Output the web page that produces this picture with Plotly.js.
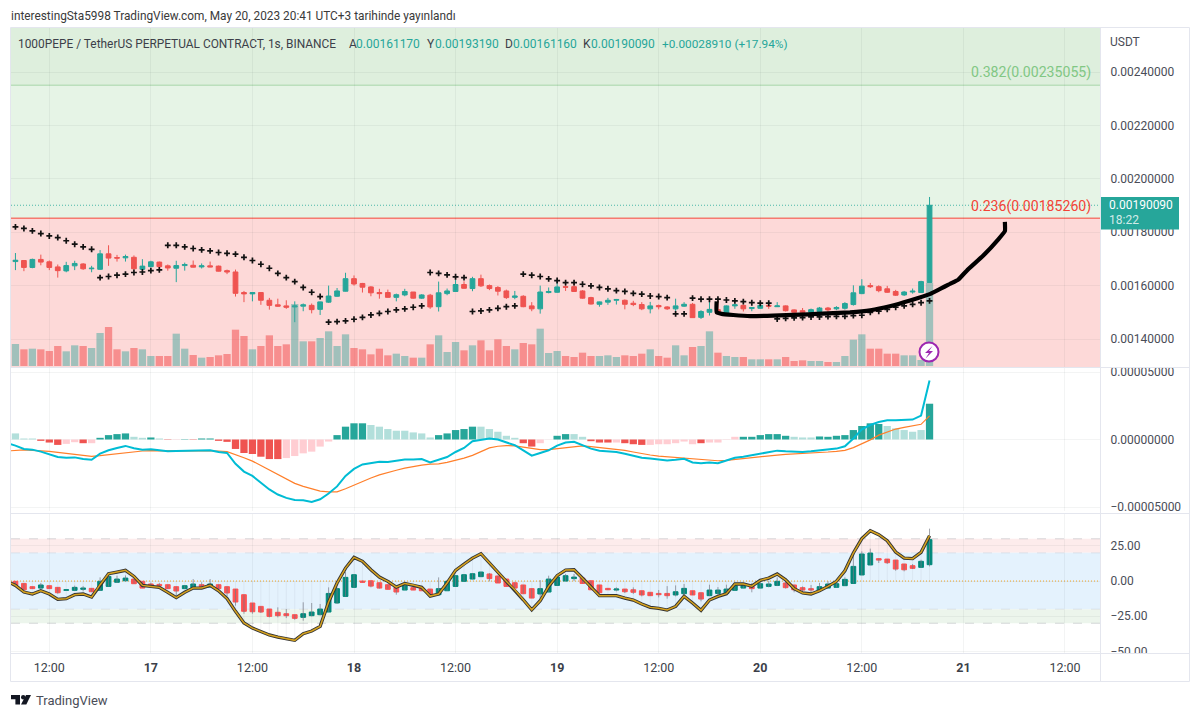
<!DOCTYPE html>
<html><head><meta charset="utf-8">
<script src="https://cdn.plot.ly/plotly-3.0.1.min.js"></script>
<style>html,body{margin:0;padding:0;background:#fff}#c{width:1200px;height:718px}</style></head>
<body><div id="c"></div>
<script>
// ---- price candles, in units of 0.00001 USDT
const priceOpen=[169,169.4,166.8,169.8,168.9,167,165.5,167.4,168.1,166.3,
166.1,171.9,170.5,170.4,170.6,166.1,167.1,168.8,167.4,166.5,
167.5,167.6,167,167.4,167.3,165.6,165.1,157.4,156.9,157.4,
154.5,152.8,152.4,152,152.3,152.6,151.1,153.8,156,157.9,
162.6,160.8,159.5,157.4,157.4,155.6,156.5,157.6,155.3,156.4,
152.1,157,157.8,160.4,158.9,162.6,160,159.3,158,155.6,
156,152.4,151.3,157.4,157.5,159.6,159.6,158,155.5,153,
153.8,154.5,154.5,153.4,152.9,151.3,152.5,152,151.3,152.3,
153,148.1,150,151,149.8,152.4,152.6,151.4,151.5,152.6,
152.1,152.4,150.9,150.6,150,150.3,151.6,151.3,151.5,152.9,
157,160,159.6,158.8,157.8,156.5,157.6,157.4,161.17];
const priceHigh=[172.2,169.4,170.1,171.6,169.4,167.9,168.9,169.3,168.4,167.4,
173.3,175.1,171.5,171.6,171.3,169.9,169.3,169,167.9,169.3,
168.6,169.4,168.3,169,167.5,166,166,158,157.6,157.6,
155.4,155.1,154.5,154.1,153.3,153.3,154,160,159.1,164.8,
163.8,161,159.8,158.8,158.5,157,158.8,157.6,156.8,156.9,
161.5,158.9,162.3,161.6,163.3,164.1,160.4,159.8,158.5,158,
156.4,153.8,160,159.3,162.5,160.4,161,158.3,155.8,154,
155.4,155,154.8,154.3,153.8,153.9,152.9,152.3,155.1,153.8,
153.5,150.8,154,154.8,152.6,153.3,152.9,152,153.3,153,
153.8,152.6,151.1,151.6,151.4,152,152,152.3,153.8,160.1,
162.4,161,160.1,159.9,158.4,158,158.9,161.8,193.19];
const priceLow=[165.8,165.4,166.5,167.6,165.8,163,165,165.8,165.9,165,
165.9,167.4,169,169,166,165.9,166.9,166.5,165.6,161.3,
165.6,166.8,166.4,166.9,165.3,164.3,155.9,153.8,154.1,152.8,
151,152.1,151.3,146.3,150.4,149.6,149,153.5,155.8,157.8,
160,157.4,156,155.1,155.5,154.1,156,155.1,155,151.3,
150.3,156.4,157.6,158.9,157.9,159.5,158.3,156.3,155,154.9,
151.9,150.4,149.5,157.1,157.3,158,157.6,155.1,152.9,152.1,
152.8,152.9,151.1,152.3,150.8,149.6,151.1,150.9,150.5,152,
147.9,147.5,148.8,149.5,149.5,151.3,150.3,150.4,151.3,151.3,
152,150.3,149.8,149.5,149.8,149.8,150,150.8,151,152.5,
156.8,159.1,157.5,157.3,156.1,156.1,157,157.3,161.16];
const priceClose=[169.5,166.8,169.8,168.8,166.8,165.6,167.5,168.3,166.3,166.5,
171.9,170.3,170.3,170.9,166.3,167.3,168.9,167.1,166.6,167.5,
167.9,166.9,167.4,167,165.4,165.1,157.1,156.9,157.4,154.5,
152.6,152.3,151.9,152.4,152.8,151,153.9,156.1,158,162.6,
160.6,159.4,157.3,157,155.6,156.6,157.8,155.3,156.5,152,
157.3,158,160.4,159,162.6,159.9,158.9,157.9,155.5,156.1,
152.1,151.3,157.6,157.8,159.5,159.4,157.8,155.3,153.1,153.9,
154.5,154.8,153,152.9,151.3,152.4,152.1,151.3,152.4,153,
148,150.3,151.1,149.6,152.4,152.8,151.3,151.8,152.6,152.3,
152.4,150.6,150,150,151,151.6,150.9,151.8,153.3,157.3,
159.8,159.6,158.1,157.5,156.4,157.6,157.9,161.5,190.09];
const volume=[66,50,52,50,45,60,44,62,60,54,
99,117,50,44,54,50,30,30,30,97,
52,33,25,27,32,36,109,90,50,60,
92,60,65,186,74,74,84,104,60,95,
54,50,35,52,32,37,30,25,25,65,
92,42,72,47,62,77,47,80,60,50,
69,65,112,39,45,30,27,40,30,30,
32,27,32,30,37,50,30,25,62,32,
57,60,104,40,30,27,27,20,20,20,
20,27,15,17,15,15,12,12,30,79,
95,52,52,37,37,32,32,18,250];
// parabolic-SAR style crosses
const sarValue=[182,181.4,180.5,179.5,178.6,178,176.8,175.5,174.5,173.6,
163,163.4,163.9,164.3,164.9,165.1,165.6,165.9,
175.1,175.1,174.5,173.9,173.4,173,172.4,172.1,171.8,170.6,169.4,168,166.5,164.6,163,161.5,159.3,157.5,155.9,
146.3,146.5,146.8,147.4,148.1,149,149.6,150.3,150.9,151.3,151.9,152.4,
164.9,164.6,164,163.3,163,
150.3,150.5,150.9,151.5,152.1,152.4,
164.3,163.9,163.4,162.5,161.9,161.1,161.1,160.5,159.9,159.3,158.8,158.1,157.8,157.1,156.8,156.1,155.9,155.5,
149.4,149.4,
155.3,154.9,154.9,154.9,154.6,154.3,154,153.6,153.4,153.4,
147.5,147.75,147.9,148,148.25,148.25,148.4,148.5,148.5,148.75,148.9,150,150.4,151.1,151.9,152.4,153,153.6,154.3];
// hand-drawn black curve (hour, price)
const sketchHour=[90.85,90.85,91.44,92.8,94.8,97.5,100.7,102.67,106.6,109,111.3,113.7,116.1,118.4,119.4,120.4,122.35,124.1,124.9,124.9];
const sketchPrice=[154.1,150,149.4,149,148.6,148.75,149.1,149.4,150,150.75,152.25,154.4,156.9,160.6,162.25,165.6,171.25,177.25,180.4,183.9];
// MACD pane, in units of 0.000001 (first line value is one bar before the first candle)
const macdHist=[4.5,.75,.75,-1,-2.25,-4,-3.25,-2,-2.75,-2.75,
1.25,3.25,4,4.5,2,1.25,1.5,.75,-.25,-.25,
.25,-.25,.75,.75,-1,-1.75,-7,-10,-10.75,-12.75,
-14.5,-14.5,-13.75,-12.25,-10.25,-9,-5.25,-1.5,3.25,9.5,
12,12,10.75,9.5,7.75,6.5,6.5,5.25,4.5,1.5,
3.25,4.5,7,7.75,9.5,9.5,7.75,5.75,2.75,1.25,
-2.75,-5.25,-2.75,-.1,2.75,4,4,2,-1.25,-2.25,
-2.25,-2.25,-2.75,-3.5,-4,-4,-3.5,-3.5,-2.75,-1.5,
-3.5,-2.75,-2.25,-2.25,-.25,2,2,2,3.25,4,
4,2.75,2,1.5,1.5,2.25,2,2.75,3.25,7,
10,12,11.5,10,8.25,7,5.75,7,26.5];
const macdKinds='tttrrrpprpggggttgtrpgrggrrrrrrrrppppppggggttttttttgggggt'+'ttttrrppggttrrrprrrpppppprppppggggggtttggggggggtttttgg';
const macdLine=[-2.75,-4.5,-7,-7.5,-9,-11,-13,-13.5,-13.25,-14.5,-15,-10.5,-8,-6.25,-4.75,-6.5,-7.5,-7.25,-7.75,-8.75,-8.5,-8.25,-8.25,-8,-8,-9.25,-10,-18,-23.75,-27,-32.25,-37,-40.75,-43.25,-44.75,-45,-46.25,-44.25,-40,-34.75,-27,-21.75,-18.5,-17.5,-16.5,-16.75,-15.75,-14.75,-14.75,-14.5,-17,-15.25,-13,-9.25,-6.25,-1.25,0,
.75,0,-2.25,-4.25,-8,-12,-10,-8,-4.5,-2.25,-1.75,-4.25,-6.75,-8.25,-8.75,-9.25,-10.5,-11.75,-13.5,-14,-14.75,-15.5,-15,-14.25,-17,-17.5,-17,-17.5,-15.5,-13.5,-12.75,-11.75,-10.25,-9.25,-8.25,-8.75,-9,-9.25,-8.75,-8,-7.5,-6.75,-5,.75,7.5,10.75,13,14.25,14.25,14.5,14.75,17.75,43.75];
const macdSignal=[-8.5,-8,-7.75,-8,-8.25,-8.75,-9.5,-10.25,-11,-11.75,-12.5,-12,-11.25,-10.5,-9.5,-8.75,-8.5,-8.25,-8.25,-8.5,-8.5,-8.5,-8.5,-8.25,-8.25,-8.5,-9,-11,-13.5,-16,-19.25,-22.75,-26.25,-29.5,-32.5,-34.75,-36.75,-38.25,-38.75,-38.75,-36.5,-33.75,-31,-28.5,-26.25,-24.25,-22.75,-21.25,-20,-19,-18.25,-18,-17,-15.5,-13.75,-11.75,-9,
-6.25,-5,-4.5,-4.75,-5.75,-7,-7.5,-7.5,-6.75,-5.75,-5,-4.75,-5.25,-6,-6.5,-7,-8,-9.25,-10.5,-11.5,-12.25,-12.75,-13.25,-14,-14.5,-15,-15.5,-15.75,-15.5,-14.75,-14.25,-13.75,-13,-12.25,-11.5,-11,-10.75,-10.25,-9.75,-9.5,-9.25,-8.75,-8,-6,-3.25,-.25,3.25,5.75,7.75,9,10.25,11.25,17.5];
// oscillator pane
const oscOpen=[-.2,-1.7,-4,-5,-3.3,-4.5,-6.6,-6.6,-5.9,-5.2,
-6.6,-3.8,-.9,.2,1.4,-.2,-2.1,-2.4,-2.6,-4,
-5.4,-4.7,-2.6,-4.3,-2.6,-4,-5.7,-9.7,-15.6,-18,
-19.9,-22.2,-23.2,-23.9,-25.8,-24.6,-23.9,-22,-15.6,-10.9,
-4.5,0,.2,-1.2,-2.6,-4.5,-6.4,-4.7,-5,-5.7,
-9.7,-6.9,-3.8,-.2,1.4,3.1,5,3.6,1.4,-1.2,
-2.8,-5.4,-9.2,-7.8,-3.1,0,1.7,2.1,.2,-2.8,
-5.2,-6.4,-5.7,-6.2,-6.9,-8,-8.8,-8.8,-9.9,-9,
-6.9,-8.3,-10.4,-8.8,-8.8,-6.6,-5,-3.8,-5,-3.8,
-3.1,-1.4,-2.8,-4.7,-5.4,-6.6,-5,-4.5,-3.3,-1.7,
4.3,11.4,15.9,15.6,14.9,12.1,10.9,9.7,11.6];
const oscClose=[-3.1,-6.2,-5.4,-2.8,-5.4,-8.3,-6.2,-4.5,-5,-7.6,
-.2,3.3,1.4,2.1,-1.9,-5,-3.6,-3.3,-5.4,-7.1,
-3.3,-2.1,-4.7,-2.1,-5.4,-8.5,-14.9,-21.5,-21.8,-22,
-25.1,-24.6,-24.6,-26.5,-23.2,-22,-19.9,-8.8,-5.4,2.6,
4.5,-.9,-3.6,-5,-5.9,-7.8,-3.1,-6.4,-6.9,-9.7,
-5.4,-.2,3.8,4.5,5.2,6.4,1.7,-1.4,-3.8,-5,
-9,-12.1,-5.4,1.4,2.8,3.8,2.8,-1.7,-6.2,-8.3,
-6.2,-5.7,-7.6,-8,-9.9,-10.4,-9.7,-10.4,-7.6,-5.2,
-9.9,-12.8,-6.4,-6.4,-5.7,-3.3,-3.1,-5.4,-1.9,-2.1,
-.2,-4.7,-6.2,-6.4,-6.4,-4,-2.1,-1.9,1.2,10.4,
19.2,19.9,14.9,13,8.5,8,9,14,29.4];
const oscHigh=[-.2,-1.7,-4,-1.4,-3.3,-4.5,-6.2,-3.3,-3.6,-5.2,
2.6,5,3.8,4,1.4,-.2,-1.2,-1.4,-2.6,-4,
-3.3,1.4,-.9,1.4,-2.6,-4,-5.7,-9.7,-15.6,-18,
-19.9,-18.7,-19.9,-23.9,-15.1,-15.6,-16.3,-4.5,-4.5,6.4,
4.5,0,.2,-1.2,-2.6,-4.5,-1.4,-4.7,-5,-5.7,
2.6,-.2,3.8,4.5,5.2,6.4,5.7,3.6,1.4,-1.2,
-2.8,-5.4,.7,3.8,5,5,5,2.1,.2,-2.8,
-5.2,-4.5,-5.7,-4.5,-6.9,-8,-6.4,-3.6,-3.1,-2.1,
-6.9,-8.3,-2.6,-4.3,-2.6,-1.4,-1.4,-1.4,.5,.2,
2.6,-.2,-2.8,-3.8,-2.8,-1.4,-.2,-1.9,2.6,18.7,
21.1,23,15.9,15.6,14.9,12.1,12.1,15.1,37.2];
const oscLow=[-3.1,-6.2,-5.4,-5.4,-5.4,-9,-6.6,-6.6,-7.3,-7.6,
-6.9,-3.8,-1.4,-.2,-1.9,-5,-3.6,-4.5,-5.4,-10.9,
-5.4,-5.4,-4.7,-4.3,-5.4,-10.9,-17.5,-23.2,-23.2,-22.7,
-25.8,-25.8,-26.3,-27.5,-28.2,-25.1,-24.4,-22,-16.3,-10.9,
-4.5,-.9,-4.5,-5.4,-5.9,-9.7,-6.4,-6.4,-6.9,-9.7,
-9.7,-6.9,-3.8,-.2,1.4,3.1,-.2,-1.4,-3.8,-5,
-9,-12.1,-13.3,-7.8,-3.1,0,0,-1.7,-6.2,-8.3,
-6.2,-7.3,-8.5,-9.2,-10.9,-10.4,-11.6,-12.5,-10.9,-10.4,
-9.9,-14.4,-10.4,-9.7,-8.8,-6.6,-5,-8,-5,-4.5,
-3.6,-5.4,-8,-7.8,-8.5,-6.6,-5,-4.5,-3.3,-1.7,
4.3,11.4,12.8,12.1,7.3,6.9,8.5,9.7,10.4];
const oscWave=[-.2,-3.1,-7.8,-9.2,-6.9,-9.2,-13,-12.5,-9.7,-9.2,-11.4,-2.6,5.2,6.4,7.6,3.3,-3.1,-3.8,-4.5,-8,-11.8,-8,-5,-5,-3.1,-6.9,-12.5,-21.5,-29.8,-33.4,-36,-38.3,-39.8,-40.9,-42.1,-37.4,-35.5,-32.2,-14.9,-1.4,9.2,16.8,14,8,2.8,-.2,-4.3,-1.7,-2.8,-4.5,-10.7,-9.2,-1.4,7.6,12.1,16.3,19.4,
12.8,6.4,-.2,-6.2,-13.3,-20.4,-14,-3.8,3.8,7.8,8,2.1,-3.8,-10.4,-10.4,-10.4,-12.1,-13.5,-16.3,-18.7,-19.4,-20.6,-18,-10.9,-15.6,-20.8,-13.5,-10.9,-9,-2.1,-2.1,-3.6,.5,2.1,5,.9,-5.4,-8.5,-9.2,-6.9,-3.8,-.2,7.3,19.9,30.1,35.7,32.9,28.6,20.6,16.3,15.9,20.4,32.2];
// axis labels and levels
const timeTickHours=[12,24,36,48,60,72,84,96,108,120,132];
const timeTickLabels=['12:00','<b>17</b>','12:00','<b>18</b>','12:00','<b>19</b>','12:00','<b>20</b>','12:00','<b>21</b>','12:00'];
const priceTicks=[0.0014,0.0016,0.0018,0.0020,0.0022,0.0024];
const macdTicks=[-5e-5,0,5e-5];
const oscTicks=[-50,-25,0,25];
const fibLevels=[0.00235055,0.0018526];
const lastPrice=0.0019009;
const firstCandleHour=8;
const PRICE_UNIT=1e-5, MACD_UNIT=1e-6;

const FONT='Roboto, sans-serif';
const hours=priceOpen.map((_,i)=>firstCandleHour+i);
const lineHours=[firstCandleHour-1].concat(hours);
const toPrice=a=>a.map(v=>v*PRICE_UNIT);
const toMacd=a=>a.map(v=>v*MACD_UNIT);

const GREEN='#26a69a',RED='#ef5350';
const kindC={t:'#b2dfdb',g:'#26a69a',r:'#ef5350',p:'#ffcdd2'};

// wick segments of the oscillator candles and faint stems to the zero line
const wickX=[],wickY=[],stemX=[],stemY=[];
hours.forEach((h,i)=>{wickX.push(h,h,null);wickY.push(oscLow[i],oscHigh[i],null);
  stemX.push(h,h,null);stemY.push(0,oscWave[i+1],null);});

const traces=[
 {type:'candlestick',x:hours,open:toPrice(priceOpen),high:toPrice(priceHigh),low:toPrice(priceLow),close:toPrice(priceClose),
  xaxis:'x',yaxis:'y',whiskerwidth:0,
  increasing:{line:{color:GREEN,width:1},fillcolor:GREEN},decreasing:{line:{color:RED,width:1},fillcolor:RED},showlegend:false},
 {type:'bar',x:hours,y:volume,xaxis:'x',yaxis:'y4',width:0.86,
  marker:{color:priceOpen.map((o,i)=>priceClose[i]>=o?'rgba(60,165,155,0.48)':'rgba(240,60,60,0.48)'),line:{width:0}},showlegend:false},
 {type:'scatter',mode:'markers',x:hours,y:toPrice(sarValue),xaxis:'x',yaxis:'y5',
  marker:{symbol:'cross-thin',size:4.2,color:'#111',line:{color:'#111',width:1.7}},showlegend:false},
 {type:'scatter',mode:'lines',x:sketchHour,y:toPrice(sketchPrice),xaxis:'x',yaxis:'y5',
  line:{color:'#000',width:4.2,shape:'spline',smoothing:0.4},showlegend:false},
 {type:'bar',x:hours,y:toMacd(macdHist),xaxis:'x',yaxis:'y2',width:0.86,
  marker:{color:macdHist.map((_,i)=>kindC[macdKinds[i]]),line:{width:0}},showlegend:false},
 {type:'scatter',mode:'lines',x:lineHours,y:toMacd(macdSignal),xaxis:'x',yaxis:'y2',line:{color:'#ff7f2a',width:1.2},showlegend:false},
 {type:'scatter',mode:'lines',x:lineHours,y:toMacd(macdLine),xaxis:'x',yaxis:'y2',line:{color:'#00bcd4',width:2},showlegend:false},
 {type:'scatter',mode:'lines',x:stemX,y:stemY,xaxis:'x',yaxis:'y3',line:{color:'rgba(120,123,134,0.09)',width:1},showlegend:false},
 {type:'scatter',mode:'lines',x:wickX,y:wickY,xaxis:'x',yaxis:'y3',line:{color:'rgba(120,123,134,0.7)',width:1},showlegend:false},
 {type:'candlestick',x:hours,open:oscOpen,close:oscClose,
  high:oscOpen.map((o,i)=>Math.max(o,oscClose[i])),low:oscOpen.map((o,i)=>Math.min(o,oscClose[i])),
  xaxis:'x',yaxis:'y3',whiskerwidth:0,
  increasing:{line:{color:'#00897b',width:1},fillcolor:'#00897b'},decreasing:{line:{color:'#ff5252',width:1},fillcolor:'#ff5252'},showlegend:false},
 {type:'scatter',mode:'lines',x:lineHours,y:oscWave,xaxis:'x',yaxis:'y3',line:{color:'#333',width:3.3},showlegend:false},
 {type:'scatter',mode:'lines',x:lineHours,y:oscWave,xaxis:'x',yaxis:'y3',line:{color:'#d6a21e',width:1.5},showlegend:false}
];

// page-pixel helpers, only for chrome (frame, logo, badge, text placement)
const L=11,T=28,W=1089,H=625;
const px=x=>(x-L)/W, py=y=>(T+H-y)/H;
const rectP=(x0,y0,x1,y1,fill,layer)=>({type:'rect',xref:'paper',yref:'paper',x0:px(x0),x1:px(x1),y0:py(y0),y1:py(y1),fillcolor:fill,line:{width:0},layer:layer||'above'});
const lineP=(x0,y0,x1,y1,c,w)=>({type:'line',xref:'paper',yref:'paper',x0:px(x0),x1:px(x1),y0:py(y0),y1:py(y1),line:{color:c,width:w||1},layer:'above'});
const pathP=(pts,fill)=>({type:'path',xref:'paper',yref:'paper',path:'M'+pts.map(p=>px(p[0])+','+py(p[1])).join('L')+'Z',fillcolor:fill,line:{width:0},layer:'above'});
const circleP=(cx,cy,r,fill,lc,lw)=>({type:'circle',xref:'paper',yref:'paper',x0:px(cx-r),x1:px(cx+r),y0:py(cy+r),y1:py(cy-r),fillcolor:fill,line:{color:lc||'rgba(0,0,0,0)',width:lw||0},layer:'above'});
const band=(yref,a,b,fill)=>({type:'rect',xref:'paper',x0:0,x1:1,yref,y0:a,y1:b,fillcolor:fill,line:{width:0},layer:'below'});
const hline=(yref,v,c,w,dash,layer)=>({type:'line',xref:'paper',x0:0,x1:1,yref,y0:v,y1:v,line:{color:c,width:w,dash:dash||'solid'},layer:layer||'below'});

const FRAME='#e4e6ee';
const shapes=[
 band('y',fibLevels[0],0.0026,'#deefdd'),
 band('y',fibLevels[1],fibLevels[0],'#e6f4e6'),
 band('y',0.0012,fibLevels[1],'#fdd9d8'),
 hline('y',fibLevels[0],'#a5d6a7',1),
 hline('y',fibLevels[1],'#f44336',1),
 hline('y',lastPrice,'rgba(38,166,154,0.8)',1,'1px,2px'),
 band('y3',20,30,'#fdecec'),
 band('y3',-20,20,'#e4f2fd'),
 band('y3',-30,-20,'#ecf5ec'),
 hline('y3',30,'rgba(120,123,134,0.28)',1,'dash'),
 hline('y3',20,'rgba(120,123,134,0.14)',1,'dash'),
 hline('y3',-20,'rgba(120,123,134,0.14)',1,'dash'),
 hline('y3',-30,'rgba(120,123,134,0.28)',1,'dash'),
 hline('y3',0,'#f5a623',1,'1px,2px'),
 // clip half-visible axis labels the way pane borders do
 rectP(1101,355,1188,368,'#fff'),
 rectP(1101,653,1188,664,'#fff'),
 // frame
 lineP(10.5,27.5,1189.5,27.5,FRAME),lineP(10.5,681.5,1189.5,681.5,FRAME),
 lineP(10.5,27.5,10.5,681.5,FRAME),lineP(1189.5,27.5,1189.5,681.5,FRAME),
 lineP(1100.5,27.5,1100.5,681.5,FRAME),lineP(10.5,367.5,1189.5,367.5,FRAME),
 lineP(10.5,513.5,1189.5,513.5,FRAME),lineP(10.5,653.5,1189.5,653.5,FRAME),
 // last-price tag
 rectP(1101,197,1179,229.5,'#26a69a'),
 // alert badge
 circleP(929,352,9.5,'#fff','#9c27b0',2),
 pathP([[932.5,346],[925,353],[929,353],[925.5,358.5],[933,351],[929,351]],'#9c27b0'),
 // logo
 pathP([[11,695],[20,695],[20,704.6],[15.4,704.6],[15.4,699.2],[11,699.2]],'#131722'),
 circleP(23.2,697.2,2.2,'#131722'),
 pathP([[26,695],[31,695],[26.3,704.6],[21,704.6]],'#131722')
];

const ann=(x,y,text,color,size,anchor)=>({xref:'paper',yref:'paper',x:px(x),y:py(y),text,showarrow:false,
  xanchor:anchor||'left',yanchor:'middle',font:{family:FONT,size:size||12,color:color},align:'left',borderpad:0,borderwidth:0});
const DK='#3c3f49',UP='#26a69a';
const annotations=[
 ann(11,16,'interestingSta5998 TradingView.com, May 20, 2023 20:41 UTC+3 tarihinde yayınlandı','#3a3a3a',11.85),
 ann(18,44,'1000PEPE / TetherUS PERPETUAL CONTRACT, 1s, BINANCE',DK,11.9),
 ann(349,44,'A',DK,12),ann(356,44,'0.00161170',UP,12),
 ann(427,44,'Y',DK,12),ann(435,44,'0.00193190',UP,12),
 ann(505,44,'D',DK,12),ann(513,44,'0.00161160',UP,12),
 ann(583,44,'K',DK,12),ann(591,44,'0.00190090',UP,12),
 ann(662,44,'+0.00028910 (+17.94%)',UP,11.8),
 ann(1110,42,'USDT','#4a4d57',12),
 ann(1091,72,'0.382(0.00235055)','#81c784',14.1,'right'),
 ann(1091,206,'0.236(0.00185260)','#f44336',14.1,'right'),
 ann(1109,205,'0.00190090','#ffffff',12),
 ann(1109,220,'18:22','rgba(255,255,255,0.8)',12),
 ann(36,700,'TradingView','#4a4d57',13)
];

const GRID='rgba(42,46,57,0.055)';
const TICKF={family:FONT,size:12,color:'#4a4d57'};
const rightAxis=(domain,range,ticks,fmt)=>({domain,range,side:'right',anchor:'x',tickmode:'array',tickvals:ticks,
  tickformat:fmt,showgrid:true,gridcolor:GRID,gridwidth:1,zeroline:false,showline:false,ticks:'outside',ticklen:7,tickcolor:'rgba(0,0,0,0)',tickfont:TICKF,fixedrange:true});
const priceRange=[0.0024-295/267000,0.0024+44/267000];
const layout={
 width:1200,height:718,autosize:false,paper_bgcolor:'#fff',plot_bgcolor:'#fff',
 margin:{l:L,r:100,t:T,b:65,pad:0},showlegend:false,hovermode:false,barmode:'overlay',boxmode:'overlay',boxgap:0.2,
 xaxis:{domain:[0,1],range:[7.475,136.14],anchor:'y3',tickmode:'array',tickvals:timeTickHours,ticktext:timeTickLabels,
   showgrid:true,gridcolor:GRID,zeroline:false,showline:false,ticks:'outside',ticklen:3,tickcolor:'rgba(0,0,0,0)',
   tickfont:{family:FONT,size:12.5,color:'#3c3f49'},rangeslider:{visible:false},fixedrange:true},
 yaxis:rightAxis([(653-367)/625,1],priceRange,priceTicks,'.8f'),
 yaxis2:rightAxis([(653-511)/625,(653-368)/625],[-5.296e-5,5.296e-5],macdTicks,'.8f'),
 yaxis3:rightAxis([0,(653-514)/625],[-51.1,47.6],oscTicks,'.2f'),
 yaxis4:{domain:[(653-367)/625,1],range:[-3,1014],overlaying:'y',anchor:'x',side:'left',visible:false,fixedrange:true},
 yaxis5:{domain:[(653-367)/625,1],range:priceRange,overlaying:'y',anchor:'x',side:'left',visible:false,fixedrange:true},
 shapes,annotations
};
Plotly.newPlot('c',traces,layout,{displayModeBar:false,staticPlot:true});
</script></body></html>
